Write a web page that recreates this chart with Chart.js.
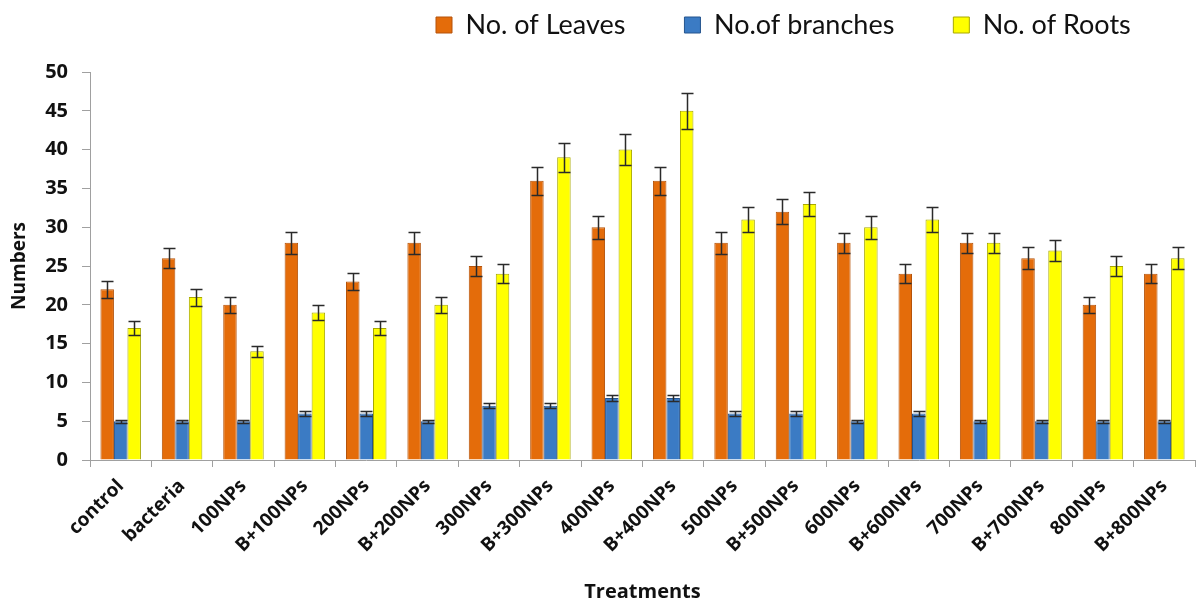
<!DOCTYPE html>
<html><head><meta charset="utf-8">
<script src="https://cdn.jsdelivr.net/npm/chart.js@4/dist/chart.umd.min.js"></script>
<style>html,body{margin:0;padding:0;background:#fff}#wrap{width:1200px;height:605px}</style>
</head><body><div id="wrap"><canvas id="c" width="1200" height="605"></canvas></div>
<script>
const categories = ["control","bacteria","100NPs","B+100NPs","200NPs","B+200NPs","300NPs","B+300NPs","400NPs","B+400NPs","500NPs","B+500NPs","600NPs","B+600NPs","700NPs","B+700NPs","800NPs","B+800NPs"];
const leaves    = [22,26,20,28,23,28,25,36,30,36,28,32,28,24,28,26,20,24];
const leavesErr = [1.1,1.3,1.0,1.4,1.1,1.4,1.3,1.8,1.5,1.8,1.4,1.6,1.3,1.2,1.3,1.4,1.05,1.2];
const branches  = [5,5,5,6,6,5,7,7,8,8,6,6,5,6,5,5,5,5];
const branchesErr = [0.2,0.2,0.2,0.3,0.3,0.2,0.35,0.35,0.4,0.4,0.3,0.3,0.2,0.3,0.2,0.2,0.2,0.2];
const roots     = [17,21,14,19,17,20,24,39,40,45,31,33,30,31,28,27,25,26];
const rootsErr  = [0.9,1.1,0.7,1.0,0.9,1.0,1.2,1.9,2.0,2.3,1.6,1.6,1.5,1.6,1.3,1.35,1.3,1.4];
const yTicks = [0,5,10,15,20,25,30,35,40,45,50];

const errs = [leavesErr, branchesErr, rootsErr];
const errorBars = {
  id:'errorBars',
  afterDatasetsDraw(chart){
    const ctx = chart.ctx, y = chart.scales.y;
    chart.data.datasets.forEach((ds,i)=>{
      const meta = chart.getDatasetMeta(i);
      meta.data.forEach((bar,j)=>{
        const v = ds.data[j], e = errs[i][j];
        const yt = Math.round(y.getPixelForValue(v+e))+0.5, yb = Math.round(y.getPixelForValue(v-e))+0.5;
        const x = Math.round(bar.x)+0.5;
        ctx.save();
        ctx.strokeStyle = '#2a2a2a'; ctx.lineWidth = 1.5;
        ctx.beginPath();
        ctx.moveTo(x, yt); ctx.lineTo(x, yb);
        ctx.moveTo(x-6, yt); ctx.lineTo(x+6, yt);
        ctx.moveTo(x-6, yb); ctx.lineTo(x+6, yb);
        ctx.stroke();
        ctx.restore();
      });
    });
  }
};

const LEG_PAD = 59, LEG_FONT = 27;
const legendTweak = {
  id:'legendTweak',
  beforeLayout(chart){
    const lg = chart.legend;
    if (lg && !lg.__p){
      const f = lg.fit.bind(lg);
      lg.fit = function(){ f(); this.height = 72; };
      lg.__p = true;
    }
  },
  afterLayout(chart){
    const lg = chart.legend;
    if (!lg) return;
    lg.left = 436 - LEG_PAD; lg.right = lg.left + 1200;
    lg.top = 25 - LEG_PAD - LEG_FONT/2; lg.bottom = 72;
    lg.width = lg.right - lg.left; lg.height = lg.bottom - lg.top;
  }
};

new Chart(document.getElementById('c'), {
  type:'bar',
  data:{
    labels: categories,
    datasets:[
      {label:'No. of Leaves', data: leaves, backgroundColor:'#E46C0A', borderColor:'#B5530A', borderWidth:1},
      {label:'No.of branches', data: branches, backgroundColor:'#3B7BC4', borderColor:'#25548E', borderWidth:1},
      {label:'No. of Roots', data: roots, backgroundColor:'#FFFF00', borderColor:'#A8A800', borderWidth:1}
    ]
  },
  plugins:[errorBars, legendTweak],
  options:{
    responsive:false, animation:false,
    layout:{padding:{left:0,right:5,top:0,bottom:0}},
    datasets:{bar:{barPercentage:1.0, categoryPercentage:0.66}},
    plugins:{
      tooltip:{enabled:false},
      legend:{
        position:'top', align:'start',
        labels:{boxWidth:16, boxHeight:16, padding:LEG_PAD, color:'#111',
          font:{family:'Lato, "Open Sans", sans-serif', size:LEG_FONT}}
      }
    },
    scales:{
      x:{
        afterFit(s){ s.height = 145; },
        grid:{display:true, drawOnChartArea:false, offset:true, tickLength:7, color:'#a0a0a0'},
        border:{color:'#a0a0a0'},
        ticks:{maxRotation:45, minRotation:45, autoSkip:false, color:'#111', padding:8,
          font:{family:'"Open Sans", sans-serif', weight:'bold', size:19}},
        title:{display:true, text:'Treatments', color:'#111',
          font:{family:'"Open Sans", sans-serif', weight:'bold', size:20}, padding:{top:0,bottom:1}}
      },
      y:{
        min:0, max:50,
        afterFit(s){ s.width = 90; },
        afterBuildTicks(s){ s.ticks = yTicks.map(v=>({value:v})); },
        grid:{display:true, drawOnChartArea:false, tickLength:8, color:'#a0a0a0'},
        border:{color:'#a0a0a0'},
        ticks:{color:'#111', padding:14, font:{family:'"Open Sans", sans-serif', weight:'bold', size:20}},
        title:{display:true, text:'Numbers', color:'#111',
          font:{family:'"Open Sans", sans-serif', weight:'bold', size:19}, padding:{top:8,bottom:0}}
      }
    }
  }
});
</script></body></html>
